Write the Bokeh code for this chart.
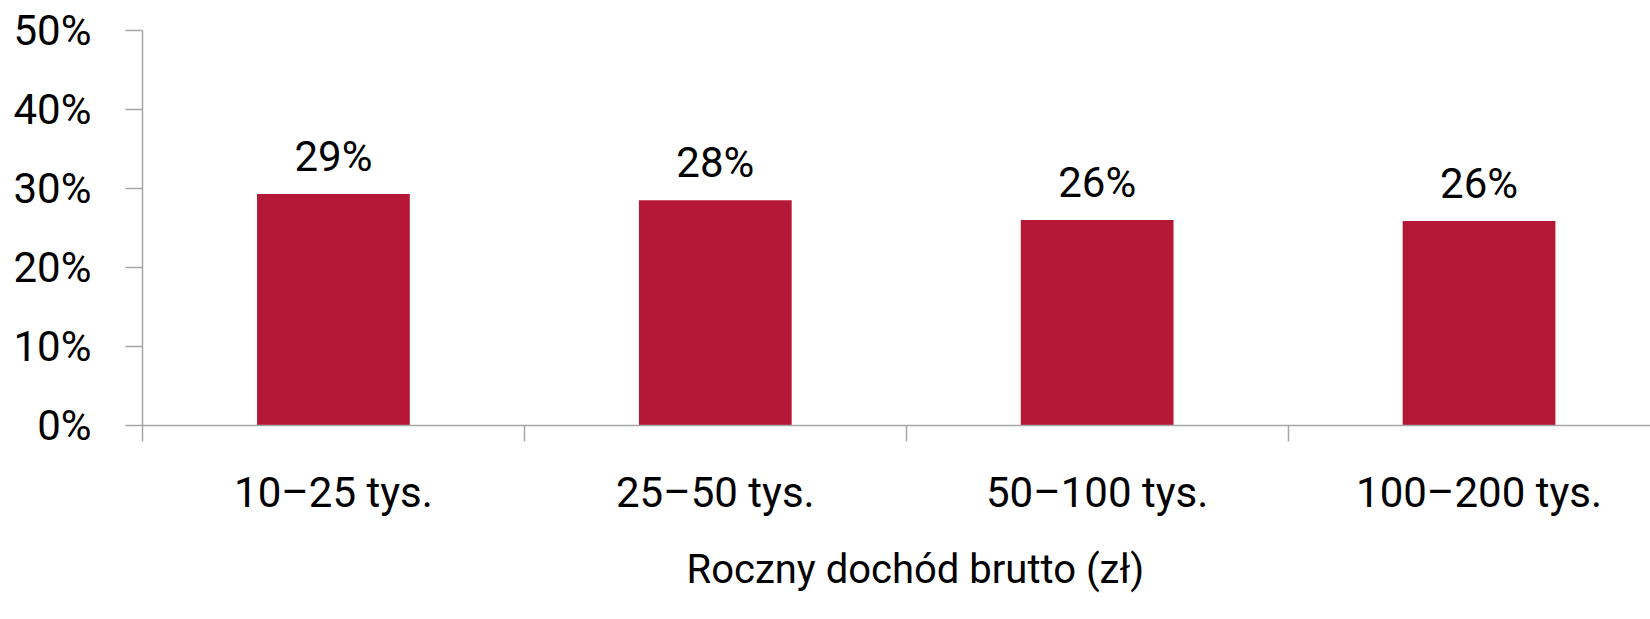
from bokeh.plotting import figure
from bokeh.models import (ColumnDataSource, FixedTicker, LabelSet, Title,
                          NumeralTickFormatter, Range1d)
from bokeh.core.properties import value
from bokeh.embed import file_html
from bokeh.resources import INLINE

# ---- data ----
categories = ["10–25 tys.", "25–50 tys.", "50–100 tys.", "100–200 tys."]
values = [0.293, 0.285, 0.260, 0.259]
value_labels = ["29%", "28%", "26%", "26%"]
y_ticks = [0, 0.1, 0.2, 0.3, 0.4, 0.5]
x_title = "Roczny dochód brutto (zł)"

FONT = "Roboto"
BAR = "#B51837"
AXIS = "#A6A6A6"

positions = [i + 0.5 for i in range(len(categories))]
separators = [float(i) for i in range(len(categories))]

src = ColumnDataSource(dict(x=positions, top=values, lab=value_labels))

p = figure(width=1650, height=619, output_backend="svg", toolbar_location=None,
           x_range=Range1d(0, 3.949), y_range=Range1d(0, 0.5))
p.min_border_left = 142
p.min_border_right = 0
p.min_border_top = 30
p.min_border_bottom = 194
p.outline_line_color = None
p.xgrid.visible = False
p.ygrid.visible = False
p.background_fill_color = "white"
p.border_fill_color = "white"

p.vbar(x="x", top="top", width=0.4, source=src, fill_color=BAR, line_color=None)

p.add_layout(LabelSet(x="x", y="top", text="lab", source=src, y_offset=23,
                      text_align="center", text_baseline="alphabetic",
                      text_font=value(FONT), text_font_size="42px", text_color="black"))

# x axis
xa = p.xaxis[0]
xa.ticker = FixedTicker(ticks=positions, minor_ticks=separators)
xa.major_label_overrides = {pos: c for pos, c in zip(positions, categories)}
xa.major_tick_out = 0
xa.major_tick_in = 0
xa.minor_tick_out = 16
xa.minor_tick_in = 0
xa.minor_tick_line_color = AXIS
xa.minor_tick_line_width = 1.5
xa.axis_line_color = AXIS
xa.axis_line_width = 1.5
xa.major_label_text_font = FONT
xa.major_label_text_font_size = "42px"
xa.major_label_text_color = "black"
xa.major_label_standoff = 26

# y axis
ya = p.yaxis[0]
ya.ticker = FixedTicker(ticks=y_ticks)
ya.formatter = NumeralTickFormatter(format="0%")
ya.major_tick_out = 17
ya.major_tick_in = 0
ya.minor_tick_line_color = None
ya.major_tick_line_color = AXIS
ya.major_tick_line_width = 1.5
ya.axis_line_color = AXIS
ya.axis_line_width = 1.5
ya.major_label_text_font = FONT
ya.major_label_text_font_size = "42px"
ya.major_label_text_color = "black"
ya.major_label_standoff = 34

p.add_layout(Title(text=x_title, align="left", offset=544, standoff=48,
                   text_font=FONT, text_font_size="40px", text_font_style="normal",
                   text_color="black"), "below")

open("out.html", "w").write(file_html(p, INLINE))
